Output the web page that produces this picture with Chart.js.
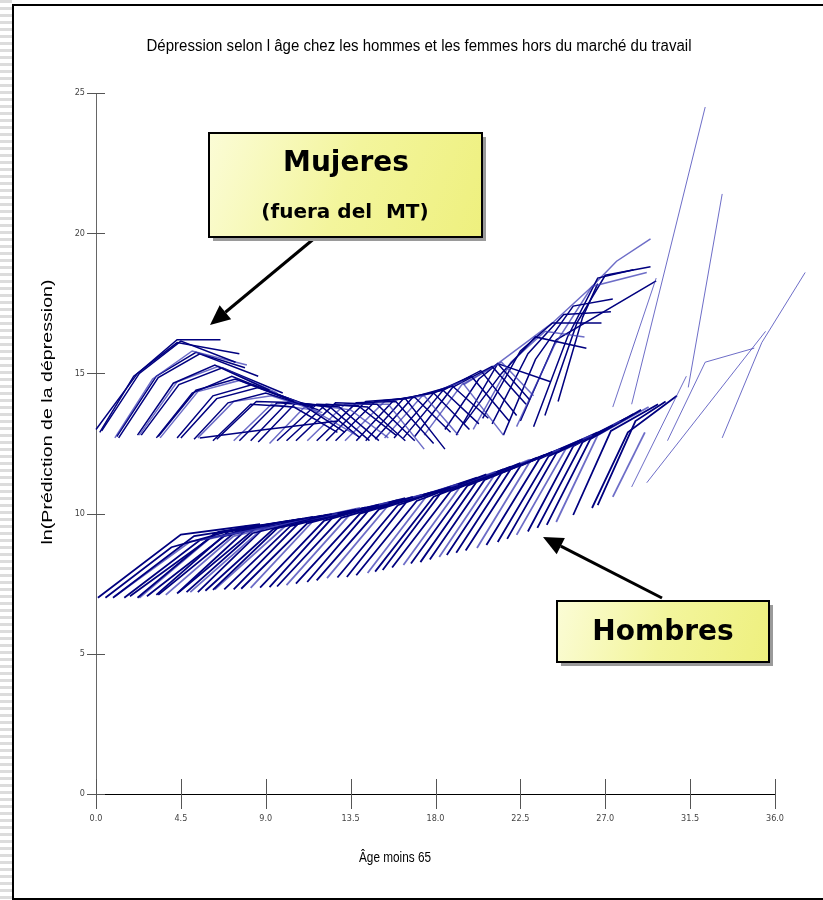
<!DOCTYPE html>
<html>
<head>
<meta charset="utf-8">
<script src="https://cdn.jsdelivr.net/npm/chart.js@4.4.1/dist/chart.umd.min.js"></script>
<style>
  html, body { margin: 0; padding: 0; background: #fff; }
  body { width: 823px; height: 900px; position: relative; overflow: hidden; }
  #rayures {
    position: absolute; left: 0; top: 0; width: 12px; height: 900px;
    background: repeating-linear-gradient(to bottom, #dcdcdc 0px, #dcdcdc 3px, #fff 3px, #fff 7px);
  }
  #cadre {
    position: absolute; left: 12px; top: 4px; width: 830px; height: 892px;
    border-left: 2px solid #000; border-top: 2px solid #000; border-bottom: 2px solid #000;
  }
  #wrap { position: absolute; left: 14px; top: 6px; width: 809px; height: 890px; }
</style>
</head>
<body>
<div id="rayures"></div>
<div id="cadre"></div>
<div id="wrap"><canvas id="graphe"></canvas></div>
<script>
// === Données (x = âge - 65, y = ln prédiction) ===
const xTicks = [0, 4.5, 9, 13.5, 18, 22.5, 27, 31.5, 36];
const yTicks = [0, 5, 10, 15, 20, 25];

// Femmes hors du marché du travail
const femmes = [
  [[0.0, 13.0], [2.2, 15.0], [4.3, 16.2], [6.6, 16.2]],
  [[0.2, 12.9], [2.0, 14.9], [4.3, 16.1], [7.6, 15.7]],
  [[0.3, 12.95], [2.3, 15.0], [4.5, 16.15], [7.4, 15.4]],
  [[1.0, 12.7], [3.0, 14.8], [5.1, 15.8], [8.0, 15.3]],
  [[1.1, 12.75], [3.2, 14.9], [5.3, 15.75], [7.9, 15.2]],
  [[1.2, 12.7], [3.3, 14.85], [5.5, 15.7], [8.6, 14.9]],
  [[2.2, 12.8], [4.1, 14.65], [6.3, 15.3], [9.2, 14.4]],
  [[2.3, 12.8], [4.3, 14.7], [6.5, 15.25], [9.6, 14.3]],
  [[2.4, 12.8], [4.4, 14.6], [6.7, 15.2], [9.9, 14.3]],
  [[3.2, 12.7], [5.1, 14.3], [7.2, 14.9], [10.2, 14.1]],
  [[3.3, 12.75], [5.3, 14.4], [7.4, 14.8], [10.5, 14.0]],
  [[3.4, 12.7], [5.4, 14.35], [7.6, 14.75], [10.8, 13.95]],
  [[4.3, 12.7], [6.2, 14.2], [8.3, 14.6], [11.0, 13.9]],
  [[4.5, 12.7], [6.4, 14.1], [8.6, 14.5], [11.5, 13.8]],
  [[5.2, 12.65], [7.0, 13.95], [9.0, 14.3], [11.8, 13.7]],
  [[5.4, 12.7], [7.3, 14.0], [9.3, 14.2], [12.0, 13.6]],
  [[5.5, 12.7], [9.0, 13.0], [12.8, 13.3]],
  [[6.2, 12.6], [8.2, 13.9], [10.5, 13.8], [12.8, 12.9]],
  [[6.4, 12.65], [8.5, 14.0], [10.8, 13.95], [13.2, 12.9]],
  [[7.3, 12.6], [9.3, 13.9], [11.5, 13.7], [13.8, 12.8]],
  [[7.6, 12.6], [9.6, 13.95], [11.9, 13.85], [14.0, 12.7]],
  [[8.2, 12.6], [10.2, 14.0], [12.4, 13.8], [14.5, 12.6]],
  [[8.6, 12.55], [10.6, 13.95], [12.9, 13.8], [15.0, 12.6]],
  [[9.2, 12.5], [11.2, 13.9], [13.5, 13.7], [15.5, 12.7]],
  [[9.6, 12.6], [11.7, 13.9], [13.9, 13.85], [15.9, 12.8]],
  [[10.1, 12.6], [12.2, 13.9], [14.4, 13.8], [16.4, 12.6]],
  [[10.6, 12.6], [12.7, 13.95], [14.9, 13.9], [16.9, 12.6]],
  [[11.2, 12.6], [13.2, 13.9], [15.5, 13.9], [17.4, 12.3]],
  [[11.7, 12.6], [13.8, 13.95], [15.9, 14.0], [17.9, 12.5]],
  [[12.2, 12.6], [14.3, 14.0], [16.4, 14.1], [18.5, 12.3]],
  [[12.7, 12.6], [14.8, 14.0], [16.9, 14.15], [18.8, 12.9]],
  [[13.2, 12.6], [15.3, 14.0], [17.4, 14.2], [19.2, 12.8]],
  [[13.8, 12.6], [15.8, 14.05], [17.9, 14.3], [19.8, 13.0]],
  [[14.3, 12.6], [16.3, 14.1], [18.4, 14.4], [20.3, 13.2]],
  [[14.8, 12.65], [16.8, 14.15], [18.9, 14.55], [20.8, 13.4]],
  [[15.3, 12.7], [17.3, 14.2], [19.4, 14.7], [21.6, 12.8]],
  [[15.8, 12.7], [17.9, 14.3], [19.9, 14.9], [21.9, 13.3]],
  [[16.3, 12.7], [18.4, 14.4], [20.4, 15.1], [22.3, 13.5]],
  [[16.9, 12.75], [18.9, 14.5], [21.0, 15.25], [22.8, 13.9]],
  [[17.4, 12.8], [19.4, 14.6], [21.5, 15.4], [23.2, 14.2]],
  [[18.5, 13.0], [20.3, 14.8], [21.3, 15.35], [23.0, 14.05]],
  [[19.1, 12.8], [21.3, 15.35], [24.1, 14.7]],
  [[19.5, 13.2], [21.5, 15.0], [23.3, 16.3], [26.0, 15.9]],
  [[20.0, 13.0], [22.0, 15.4], [23.8, 16.5], [25.9, 16.3]],
  [[20.5, 13.4], [22.5, 15.8], [24.2, 16.8], [26.8, 16.8]],
  [[21.0, 13.2], [22.9, 15.7], [24.8, 17.1], [27.3, 17.2]],
  [[21.6, 12.8], [23.3, 15.5], [25.3, 17.4], [27.4, 17.65]],
  [[22.3, 13.1], [24.3, 16.0], [26.3, 18.1], [29.2, 18.6]],
  [[23.2, 13.1], [25.0, 16.3], [26.6, 18.4], [28.5, 18.7]],
  [[23.8, 13.5], [25.5, 16.8], [27.0, 18.5], [29.4, 18.8]],
  [[24.5, 14.0], [25.8, 17.0], [26.6, 18.2]],
  [[19.5, 14.6], [21.3, 15.35], [24.2, 16.8], [26.3, 18.1], [27.6, 19.0], [29.4, 19.8]],
  [[22.5, 13.3], [24.4, 16.2], [29.7, 18.3]]
];

// Hommes hors du marché du travail
const hommes = [
  [[0.1, 7.0], [4.5, 9.25], [8.7, 9.62]],
  [[0.5, 7.0], [4.0, 8.8], [8.0, 9.55]],
  [[0.9, 7.0], [5.2, 9.2], [9.5, 9.65]],
  [[1.0, 7.05], [5.0, 9.0], [9.0, 9.5]],
  [[1.5, 7.0], [5.5, 9.05], [9.3, 9.62]],
  [[1.8, 7.05], [6.5, 9.35], [10.8, 9.8]],
  [[2.2, 7.0], [6.3, 9.3], [10.3, 9.75]],
  [[2.3, 7.0], [6.0, 9.1], [9.8, 9.68]],
  [[2.7, 7.05], [6.8, 9.2], [10.6, 9.78]],
  [[3.2, 7.1], [7.0, 9.35], [11.0, 9.82]],
  [[3.3, 7.1], [7.5, 9.4], [11.5, 9.88]],
  [[3.7, 7.1], [7.3, 9.2], [11.3, 9.85]],
  [[4.3, 7.15], [8.0, 9.45], [12.0, 9.93]],
  [[4.4, 7.2], [8.5, 9.5], [12.5, 9.98]],
  [[4.8, 7.2], [8.3, 9.3], [12.3, 9.96]],
  [[5.0, 7.2], [8.8, 9.45], [12.8, 10.0]],
  [[5.4, 7.2], [9.0, 9.55], [13.0, 10.02]],
  [[5.8, 7.25], [9.4, 9.45], [13.4, 10.08]],
  [[6.2, 7.28], [9.8, 9.6], [13.8, 10.15]],
  [[6.3, 7.3], [10.2, 9.65], [14.0, 10.2]],
  [[6.8, 7.3], [10.3, 9.55], [14.3, 10.22]],
  [[7.3, 7.3], [10.8, 9.7], [14.6, 10.25]],
  [[7.7, 7.32], [11.2, 9.65], [15.0, 10.32]],
  [[8.2, 7.35], [11.6, 9.8], [15.5, 10.4]],
  [[8.7, 7.36], [12.1, 9.75], [16.0, 10.48]],
  [[9.2, 7.38], [12.6, 9.9], [16.4, 10.55]],
  [[9.6, 7.4], [13.0, 9.85], [16.8, 10.6]],
  [[10.1, 7.45], [13.5, 10.0], [17.3, 10.68]],
  [[10.6, 7.5], [14.0, 10.0], [17.8, 10.76]],
  [[11.2, 7.56], [14.5, 10.15], [18.3, 10.85]],
  [[11.7, 7.62], [15.0, 10.15], [18.8, 10.95]],
  [[12.25, 7.7], [15.5, 10.3], [19.2, 11.05]],
  [[12.8, 7.72], [16.0, 10.3], [19.7, 11.15]],
  [[13.3, 7.74], [16.5, 10.45], [20.2, 11.28]],
  [[13.8, 7.8], [17.0, 10.45], [20.7, 11.4]],
  [[14.4, 7.88], [17.5, 10.6], [21.2, 11.5]],
  [[14.8, 7.93], [17.9, 10.6], [21.6, 11.58]],
  [[15.2, 7.99], [18.3, 10.75], [22.0, 11.68]],
  [[15.7, 8.08], [18.8, 10.8], [22.5, 11.8]],
  [[16.3, 8.17], [19.3, 10.95], [23.0, 11.93]],
  [[16.7, 8.22], [19.7, 11.0], [23.4, 12.0]],
  [[17.2, 8.27], [20.2, 11.15], [23.8, 12.1]],
  [[17.7, 8.36], [20.6, 11.2], [24.2, 12.2]],
  [[18.2, 8.45], [21.1, 11.35], [24.6, 12.3]],
  [[18.6, 8.52], [21.5, 11.45], [25.0, 12.4]],
  [[19.1, 8.6], [22.0, 11.6], [25.4, 12.5]],
  [[19.6, 8.68], [22.5, 11.7], [25.8, 12.65]],
  [[20.2, 8.77], [23.0, 11.85], [26.3, 12.8]],
  [[20.7, 8.88], [23.5, 11.95], [26.6, 12.9]],
  [[21.3, 8.99], [24.0, 12.05], [27.0, 13.0]],
  [[21.8, 9.1], [24.4, 12.15], [27.4, 13.15]],
  [[22.3, 9.24], [24.9, 12.3], [27.8, 13.3]],
  [[22.9, 9.36], [25.3, 12.4], [28.1, 13.4]],
  [[23.4, 9.49], [25.8, 12.55], [28.5, 13.55]],
  [[23.9, 9.6], [26.2, 12.65], [28.9, 13.7]],
  [[24.4, 9.7], [26.6, 12.8], [29.3, 13.8]],
  [[25.3, 9.95], [27.3, 12.95], [29.8, 13.9]],
  [[26.3, 10.2], [28.2, 12.9], [30.8, 14.2]],
  [[26.6, 10.3], [28.6, 13.3], [30.2, 14.0]],
  [[27.4, 10.6], [29.1, 12.9]]
];

// Trajectoires isolées (traits fins à droite)
const isoles = [
  [[27.4, 13.8], [29.7, 18.4]],
  [[28.4, 13.9], [32.3, 24.5]],
  [[31.4, 14.5], [33.2, 21.4]],
  [[29.2, 11.1], [35.5, 16.5]],
  [[30.3, 12.6], [32.3, 15.4], [34.9, 15.9]],
  [[33.2, 12.7], [35.3, 16.1], [37.6, 18.6]],
  [[28.4, 10.95], [31.3, 14.9]]
];

const NAVY = "#00007f";
const CLAIR = "rgba(60,60,180,0.75)";

function serie(points, color, width) {
  return {
    data: points.map((p) => ({ x: p[0], y: p[1] })),
    borderColor: color,
    borderWidth: width,
    pointRadius: 0,
    showLine: true,
    fill: false,
    tension: 0,
    clip: false,
  };
}

const datasets = [];
isoles.forEach((t) => datasets.push(serie(t, CLAIR, 1)));
femmes.forEach((t, i) => datasets.push(serie(t, i % 4 === 3 ? CLAIR : NAVY, 1.5)));
hommes.forEach((t, i) => datasets.push(serie(t, i % 4 === 3 ? CLAIR : NAVY, 1.8)));

const NARROW = "'Liberation Sans Narrow', 'DejaVu Sans Condensed', sans-serif";

// === Petites croix des graduations ===
const graduations = {
  id: "graduations",
  beforeDatasetsDraw(chart) {
    const { ctx } = chart;
    const sx = chart.scales.x, sy = chart.scales.y;
    ctx.save();
    ctx.lineWidth = 1;
    ctx.strokeStyle = "#555";
    sx.ticks.forEach((t) => {
      const px = Math.round(sx.getPixelForValue(t.value)) + 0.5;
      ctx.beginPath();
      ctx.moveTo(px, sy.bottom - 15);
      ctx.lineTo(px, sy.bottom + 15);
      ctx.stroke();
    });
    sy.ticks.forEach((t) => {
      const py = Math.round(sy.getPixelForValue(t.value)) + 0.5;
      ctx.beginPath();
      ctx.moveTo(sx.left - 9, py);
      ctx.lineTo(sx.left + 9, py);
      ctx.stroke();
    });
    ctx.restore();
  },
};

// === Titres et encadrés jaunes ===
function texteAjuste(ctx, txt, x, y, largeur) {
  const w = ctx.measureText(txt).width;
  ctx.save();
  ctx.translate(x, y);
  ctx.scale(largeur / w, 1);
  ctx.fillText(txt, 0, 0);
  ctx.restore();
}

function fleche(ctx, x1, y1, x2, y2) {
  const a = Math.atan2(y2 - y1, x2 - x1);
  const L = 20, W = 9;
  const bx = x2 - L * Math.cos(a), by = y2 - L * Math.sin(a);
  ctx.beginPath();
  ctx.moveTo(x1, y1);
  ctx.lineTo(bx, by);
  ctx.lineWidth = 3;
  ctx.strokeStyle = "#000";
  ctx.stroke();
  ctx.beginPath();
  ctx.moveTo(x2, y2);
  ctx.lineTo(bx + W * Math.sin(a), by - W * Math.cos(a));
  ctx.lineTo(bx - W * Math.sin(a), by + W * Math.cos(a));
  ctx.closePath();
  ctx.fillStyle = "#000";
  ctx.fill();
}

function encadre(ctx, x, y, w, h) {
  ctx.fillStyle = "#9a9a9a";
  ctx.fillRect(x + 4, y + 4, w, h);
  const g = ctx.createLinearGradient(x, y, x + w, y + h);
  g.addColorStop(0, "#fbfcd6");
  g.addColorStop(0.5, "#f3f59c");
  g.addColorStop(1, "#eef07e");
  ctx.fillStyle = g;
  ctx.fillRect(x, y, w, h);
  ctx.lineWidth = 2;
  ctx.strokeStyle = "#000";
  ctx.strokeRect(x, y, w, h);
}

const habillage = {
  id: "habillage",
  afterDraw(chart) {
    const { ctx } = chart;
    ctx.save();
    ctx.fillStyle = "#000";
    ctx.textAlign = "center";
    ctx.textBaseline = "middle";

    // titre principal
    ctx.font = "16px 'Liberation Sans', Arial, sans-serif";
    texteAjuste(ctx, "Dépression selon l âge chez les hommes et les femmes hors du marché du travail", 405, 41, 545);

    // titre de l'axe y
    ctx.save();
    ctx.translate(34, 406);
    ctx.rotate(-Math.PI / 2);
    ctx.font = "14px 'Liberation Sans', Arial, sans-serif";
    texteAjuste(ctx, "ln(Prédiction de la dépression)", 0, 0, 265);
    ctx.restore();

    // titre de l'axe x
    ctx.font = "15px 'Liberation Sans', Arial, sans-serif";
    texteAjuste(ctx, "Âge moins 65", 381, 852, 72);

    // encadré Mujeres
    fleche(ctx, 302, 231, 196, 319);
    encadre(ctx, 195, 127, 273, 104);
    ctx.fillStyle = "#000";
    ctx.font = "bold 28px 'DejaVu Sans', Verdana, sans-serif";
    ctx.fillText("Mujeres", 332, 158);
    ctx.font = "bold 20px 'DejaVu Sans', Verdana, sans-serif";
    ctx.fillText("(fuera del  MT)", 331, 207);

    // encadré Hombres
    fleche(ctx, 648, 592, 529, 531);
    encadre(ctx, 543, 595, 212, 61);
    ctx.fillStyle = "#000";
    ctx.font = "bold 28px 'DejaVu Sans', Verdana, sans-serif";
    ctx.fillText("Hombres", 649, 627);
    ctx.restore();
  },
};

new Chart(document.getElementById("graphe"), {
  type: "scatter",
  data: { datasets },
  plugins: [graduations, habillage],
  options: {
    responsive: true,
    maintainAspectRatio: false,
    animation: false,
    layout: { padding: { left: 0, right: 48, top: 87, bottom: 0 } },
    plugins: {
      legend: { display: false },
      tooltip: { enabled: false },
      title: { display: false },
    },
    scales: {
      x: {
        type: "linear",
        min: 0,
        max: 36,
        afterBuildTicks: (s) => { s.ticks = xTicks.map((v) => ({ value: v })); },
        afterFit: (s) => { s.height = 102; },
        grid: { display: false, drawTicks: false },
        border: { display: true, color: "#000", width: 1 },
        ticks: {
          padding: 19,
          color: "#444",
          maxRotation: 0,
          autoSkip: false,
          font: { family: NARROW, size: 9 },
          callback: (v) => Number(v).toFixed(1),
        },
      },
      y: {
        type: "linear",
        min: 0,
        max: 25,
        afterBuildTicks: (s) => { s.ticks = yTicks.map((v) => ({ value: v })); },
        afterFit: (s) => { s.width = 82; },
        grid: { display: false, drawTicks: false },
        border: { display: true, color: "#666", width: 1 },
        ticks: {
          padding: 11,
          color: "#444",
          autoSkip: false,
          font: { family: NARROW, size: 9 },
          callback: (v) => String(v),
        },
      },
    },
  },
});
</script>
</body>
</html>
